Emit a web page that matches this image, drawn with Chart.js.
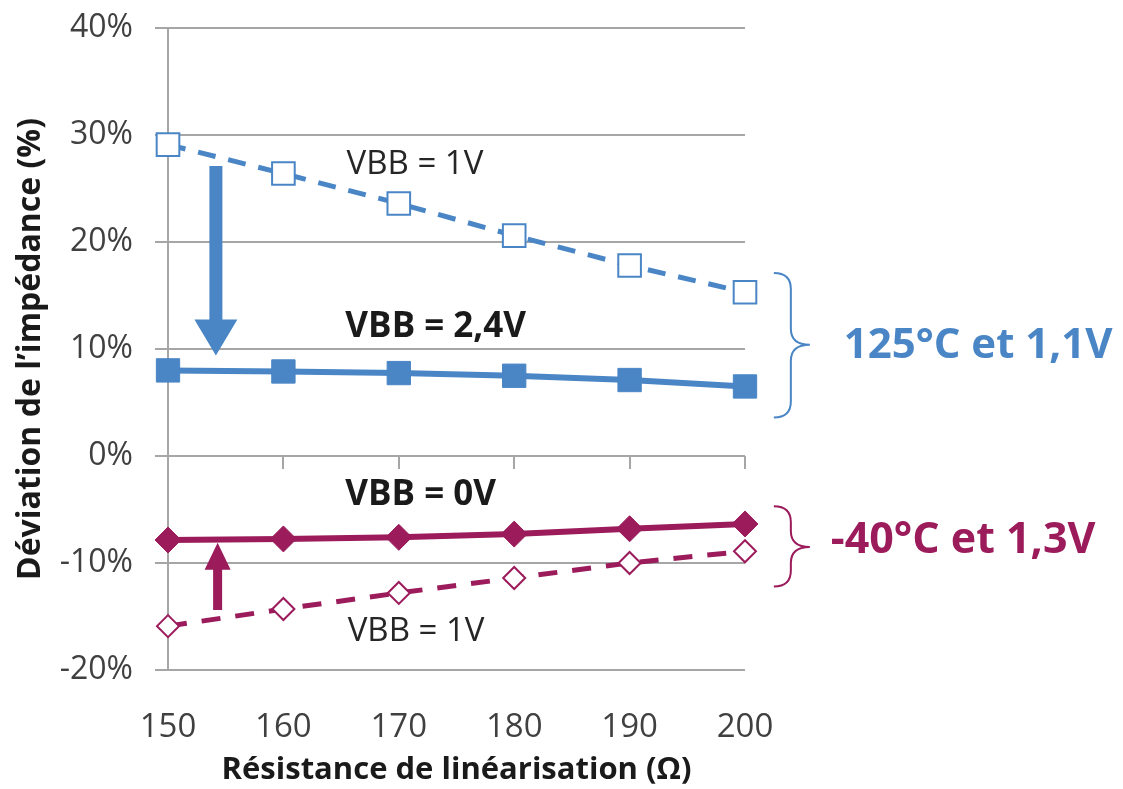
<!DOCTYPE html>
<html>
<head>
<meta charset="utf-8">
<script src="https://cdn.jsdelivr.net/npm/chart.js@4/dist/chart.umd.min.js"></script>
<style>
  html, body { margin: 0; padding: 0; background: #ffffff; }
  #wrap { width: 1123px; height: 789px; position: relative; }
</style>
</head>
<body>
<div id="wrap"><canvas id="c" width="1123" height="789"></canvas></div>
<script>
// ---- Data ----
const resistances = [150, 160, 170, 180, 190, 200];           // Ω
const hotVbb1V    = [29.1, 26.4, 23.6, 20.6, 17.8, 15.3];       // 125°C, VBB = 1V (%)
const hotVbb24V   = [8.0, 7.9, 7.75, 7.5, 7.1, 6.5];            // 125°C, VBB = 2,4V (%)
const coldVbb0V   = [-7.85, -7.75, -7.6, -7.3, -6.8, -6.35];    // -40°C, VBB = 0V (%)
const coldVbb1V   = [-15.9, -14.3, -12.8, -11.4, -10.0, -8.9];  // -40°C, VBB = 1V (%)
const yTickValues = [-20, -10, 0, 10, 20, 30, 40];
const xTickValues = [150, 160, 170, 180, 190, 200];

const xTitle = 'Résistance de linéarisation (Ω)';
const yTitle = 'Déviation de l’impédance (%)';

// annotation anchors in data units
const labels = [
  { text: 'VBB = 1V',   x: 171.4, y: 27.2,  bold: false, size: 33, color: '#262626' },
  { text: 'VBB = 2,4V', x: 173.2, y: 12.05, bold: true,  size: 35, color: '#1a1a1a' },
  { text: 'VBB = 0V',   x: 171.9, y: -3.65, bold: true,  size: 35, color: '#1a1a1a' },
  { text: 'VBB = 1V',   x: 171.5, y: -16.45,bold: false, size: 33, color: '#262626' },
  { text: '125°C et 1,1V', x: 220.2, y: 10.3, bold: true, size: 42, color: '#4A86C6' },
  { text: '-40°C et 1,3V', x: 218.9, y: -7.95, bold: true, size: 43, color: '#9B1B5B' }
];
const arrows = [
  { x: 154.15, from: 27.1, to: 9.4,  color: '#4A86C6', shaft: 13, head: 43, headLen: 36 },
  { x: 154.3,  from: -14.4, to: -8.1, color: '#9B1B5B', shaft: 9,  head: 26, headLen: 27 }
];
const braces = [
  { x: 202.5, top: 17.1, mid: 10.4, bottom: 3.6,  color: '#4A86C6' },
  { x: 202.5, top: -4.7, mid: -8.5, bottom: -12.2, color: '#9B1B5B' }
];

const BLUE = '#4A86C6';
const PURPLE = '#9B1B5B';
const GRID = '#A6A6A6';
const FONT = "'Open Sans', 'Noto Sans', sans-serif";

const pts = (arr) => resistances.map((r, i) => ({ x: r, y: arr[i] }));

const annotationPlugin = {
  id: 'annotations',
  afterDatasetsDraw(chart) {
    const ctx = chart.ctx;
    const xs = chart.scales.x, ys = chart.scales.y;
    ctx.save();
    // tick marks on the zero line
    const y0 = ys.getPixelForValue(0);
    ctx.strokeStyle = GRID;
    ctx.lineWidth = 2;
    xTickValues.forEach(v => {
      const px = Math.round(xs.getPixelForValue(v));
      ctx.beginPath();
      ctx.moveTo(px, y0);
      ctx.lineTo(px, y0 + 13);
      ctx.stroke();
    });
    // arrows
    arrows.forEach(a => {
      const px = xs.getPixelForValue(a.x);
      const p1 = ys.getPixelForValue(a.from);
      const p2 = ys.getPixelForValue(a.to);
      const dir = Math.sign(p2 - p1);
      const base = p2 - dir * a.headLen;
      ctx.fillStyle = a.color;
      ctx.beginPath();
      ctx.moveTo(px - a.shaft / 2, p1);
      ctx.lineTo(px + a.shaft / 2, p1);
      ctx.lineTo(px + a.shaft / 2, base);
      ctx.lineTo(px + a.head / 2, base);
      ctx.lineTo(px, p2);
      ctx.lineTo(px - a.head / 2, base);
      ctx.lineTo(px - a.shaft / 2, base);
      ctx.closePath();
      ctx.fill();
    });
    // braces
    braces.forEach(b => {
      const x0 = xs.getPixelForValue(b.x);
      const x1 = x0 + 17, x2 = x0 + 36;
      const yt = ys.getPixelForValue(b.top);
      const ym = ys.getPixelForValue(b.mid);
      const yb = ys.getPixelForValue(b.bottom);
      const r = Math.min(16, (ym - yt) / 2.5);
      ctx.strokeStyle = b.color;
      ctx.lineWidth = 2;
      ctx.beginPath();
      ctx.moveTo(x0, yt);
      ctx.quadraticCurveTo(x1, yt, x1, yt + r);
      ctx.lineTo(x1, ym - r);
      ctx.quadraticCurveTo(x1, ym, x2, ym);
      ctx.quadraticCurveTo(x1, ym, x1, ym + r);
      ctx.lineTo(x1, yb - r);
      ctx.quadraticCurveTo(x1, yb, x0, yb);
      ctx.stroke();
    });
    // labels
    ctx.textAlign = 'center';
    ctx.textBaseline = 'middle';
    labels.forEach(l => {
      ctx.font = (l.bold ? 'bold ' : '') + l.size + 'px ' + FONT;
      ctx.fillStyle = l.color;
      ctx.fillText(l.text, xs.getPixelForValue(l.x), ys.getPixelForValue(l.y));
    });
    ctx.restore();
  }
};

new Chart(document.getElementById('c'), {
  type: 'line',
  data: {
    datasets: [
      {
        label: '125°C VBB = 1V', data: pts(hotVbb1V),
        borderColor: BLUE, borderWidth: 5, borderDash: [18, 13],
        pointStyle: 'rect', pointRadius: 16, pointBorderWidth: 2,
        pointBackgroundColor: '#ffffff', pointBorderColor: BLUE, clip: false
      },
      {
        label: '125°C VBB = 2,4V', data: pts(hotVbb24V),
        borderColor: BLUE, borderWidth: 6,
        pointStyle: 'rect', pointRadius: 16.5, pointBorderWidth: 1,
        pointBackgroundColor: BLUE, pointBorderColor: BLUE, clip: false
      },
      {
        label: '-40°C VBB = 0V', data: pts(coldVbb0V),
        borderColor: PURPLE, borderWidth: 6,
        pointStyle: 'rectRot', pointRadius: 13, pointBorderWidth: 1,
        pointBackgroundColor: PURPLE, pointBorderColor: PURPLE, clip: false
      },
      {
        label: '-40°C VBB = 1V', data: pts(coldVbb1V),
        borderColor: PURPLE, borderWidth: 5, borderDash: [19, 15],
        pointStyle: 'rectRot', pointRadius: 11, pointBorderWidth: 2,
        pointBackgroundColor: '#ffffff', pointBorderColor: PURPLE, clip: false
      }
    ]
  },
  options: {
    responsive: false,
    animation: false,
    devicePixelRatio: 1,
    layout: { padding: { left: 0, top: 28, right: 378, bottom: 0 } },
    plugins: { legend: { display: false }, tooltip: { enabled: false } },
    elements: { line: { tension: 0 } },
    scales: {
      x: {
        type: 'linear', min: 150, max: 200,
        afterBuildTicks(scale) { scale.ticks = xTickValues.map(v => ({ value: v })); },
        afterFit(scale) { scale.height = 119; scale.paddingLeft = 0; scale.paddingRight = 0; },
        grid: { display: false },
        border: { display: false },
        ticks: { font: { family: FONT, size: 33 }, color: '#404040', padding: 30, maxRotation: 0 },
        title: { display: true, text: xTitle, color: '#1a1a1a',
                 font: { family: FONT, size: 31, weight: 'bold' }, padding: { top: 2, bottom: 0 } }
      },
      y: {
        min: -20, max: 40,
        afterBuildTicks(scale) { scale.ticks = yTickValues.map(v => ({ value: v })); },
        afterFit(scale) { scale.width = 168; scale.paddingTop = 0; scale.paddingBottom = 0; },
        grid: { color: GRID, lineWidth: 2, tickLength: 13, drawTicks: true },
        border: { display: true, color: GRID, width: 2 },
        ticks: { font: { family: FONT, size: 32 }, color: '#404040', padding: 22,
                 callback: v => v + '%' },
        title: { display: true, text: yTitle, color: '#1a1a1a',
                 font: { family: FONT, size: 32, weight: 'bold' }, padding: { top: 12, bottom: 0 } }
      }
    }
  },
  plugins: [annotationPlugin]
});
</script>
</body>
</html>
